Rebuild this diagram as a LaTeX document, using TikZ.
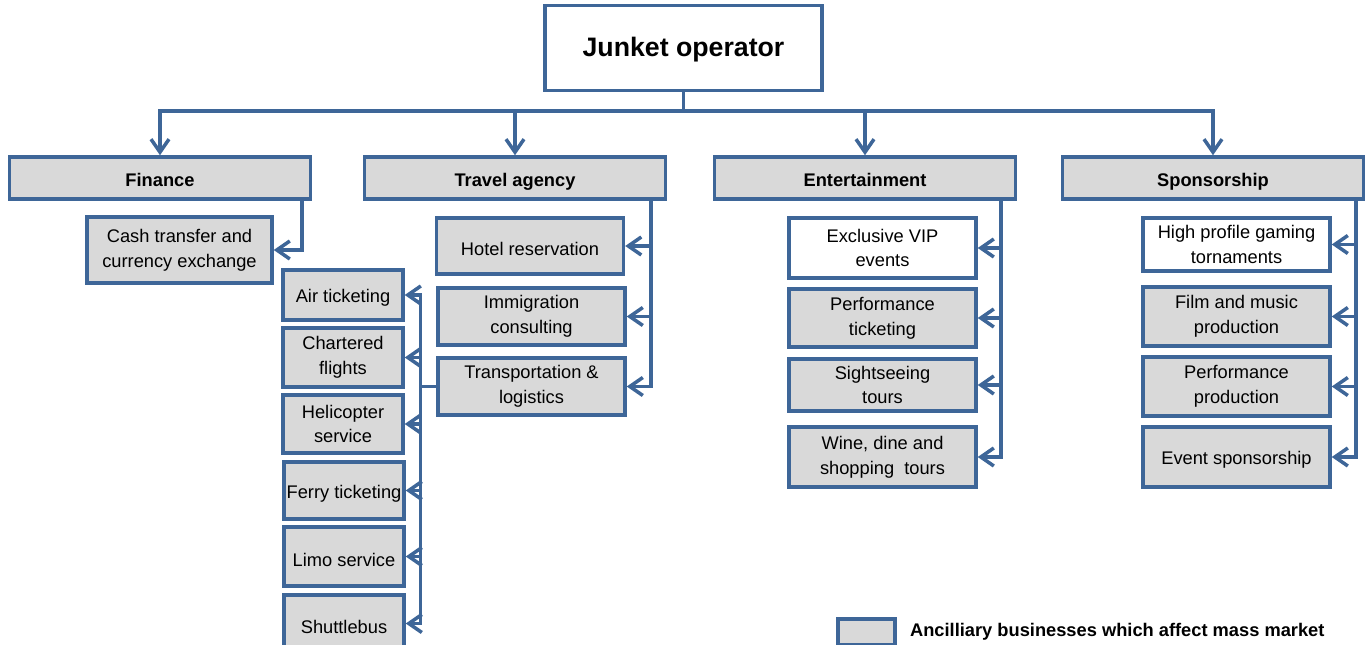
\documentclass[tikz,border=0pt]{standalone}
\usepackage{fontspec}
\setmainfont{Liberation Sans}
\usetikzlibrary{arrows.meta,positioning,calc}
\definecolor{junketBlue}{RGB}{62,102,152}
\definecolor{junketGrey}{RGB}{217,217,217}

\begin{document}
\begin{tikzpicture}[x=0.02cm, y=-0.02cm,
  % ── boxes ──
  topbox/.style={draw=junketBlue, fill=white, line width=2pt, rectangle,
                 minimum width=5.54cm, minimum height=1.7cm, inner sep=1pt,
                 text height=1.1em, text depth=0.18em,
                 font=\fontsize{15.2}{18}\selectfont\bfseries},
  headbox/.style={draw=junketBlue, fill=junketGrey, line width=2pt, rectangle,
                  minimum width=6.02cm, minimum height=0.84cm, inner sep=1pt,
                  text height=1.2em, text depth=0.26em,
                  font=\fontsize{10.4}{13}\selectfont\bfseries},
  leafbox/.style={draw=junketBlue, fill=junketGrey, line width=2pt, rectangle,
                  minimum width=3.74cm, inner sep=1pt, align=center,
                  execute at begin node={\rule{0pt}{1.05em}},
                  font=\fontsize{10.4}{14}\selectfont},
  plainleaf/.style={leafbox, fill=white},
  subleaf/.style={leafbox, minimum width=2.4cm},
  % ── arrows ──
  arr/.style={-{Straight Barb[length=2.6mm,width=3.6mm,line width=2pt]},
              line width=2pt, junketBlue},
  wire/.style={line width=2pt, junketBlue},
]

\useasboundingbox (0,0) rectangle (1370,645);
\clip (0,0) rectangle (1370,645);

%% ─── 1. Operator and branch headers ───────────────────────────
\node[topbox] (jo) at (683.5,48) {Junket operator};

\node[headbox] (fin) at (160,178)  {Finance};
\node[headbox] (trv) at (515,178)  {Travel agency};
\node[headbox] (ent) at (865,178)  {Entertainment};
\node[headbox] (spo) at (1213,178) {Sponsorship};

% bus line below the operator box
\coordinate (bus) at (jo.south |- 0,111);
\draw[wire] (jo.south) -- (bus);
\foreach \hd in {fin,trv,ent,spo}{
  \draw[arr] (bus) -| (\hd.north);
}

%% ─── 2. Finance ────────────────────────────────────────────────
\node[leafbox, minimum width=3.7cm, minimum height=1.32cm] (cash) at (179.5,250)
  {Cash transfer and\\currency exchange};
\draw[arr] ($(fin.south east)+(-10,0)$) |- (cash.east);

%% ─── 3. Travel agency ──────────────────────────────────────────
\node[leafbox, minimum height=1.12cm] (hotel) at (530,246)   {Hotel reservation};
\node[leafbox, minimum height=1.14cm] (immi)  at (531.5,316.5) {Immigration\\consulting};
\node[leafbox, minimum height=1.14cm] (trans) at (531.5,386.5) {Transportation \&\\logistics};
\foreach \lf in {hotel,immi,trans}{
  \draw[arr] ($(trv.south east)+(-16,0)$) |- (\lf.east);
}

% transport sub-branch
\node[subleaf, minimum height=1.0cm]  (air)   at (343,295)   {Air ticketing};
\node[subleaf, minimum height=1.18cm] (chart) at (343,357.5) {Chartered\\flights};
\node[subleaf, minimum height=1.16cm] (heli)  at (343,424)   {Helicopter\\service};
\node[subleaf, minimum height=1.14cm] (ferry) at (344,490.5) {Ferry ticketing};
\node[subleaf, minimum height=1.18cm] (limo)  at (344,556.5) {Limo service};
\node[subleaf, minimum height=1.14cm] (shut)  at (344,623.5) {Shuttlebus};

\coordinate (tj) at ($(trans.west)+(-16,0)$);
\draw[wire] (trans.west) -- (tj);
\foreach \lf in {air,chart,heli,ferry,limo,shut}{
  \draw[arr] (tj) |- (\lf.east);
}

%% ─── 4. Entertainment ──────────────────────────────────────────
\node[plainleaf, minimum height=1.2cm]  (vip)   at (882.5,248) {Exclusive VIP\\events};
\node[leafbox, minimum height=1.16cm]   (perft) at (882.5,318) {Performance\\ticketing};
\node[leafbox, minimum height=1.04cm]   (sight) at (882.5,385) {Sightseeing\\tours};
\node[leafbox, minimum height=1.2cm]    (wine)  at (882.5,457) {Wine, dine and\\shopping\ \ tours};
\foreach \lf in {vip,perft,sight,wine}{
  \draw[arr] ($(ent.south east)+(-16,0)$) |- (\lf.east);
}

%% ─── 5. Sponsorship ────────────────────────────────────────────
\node[plainleaf, minimum height=1.06cm] (high)  at (1236.5,244.5) {High profile gaming\\tornaments};
\node[leafbox, minimum height=1.18cm]   (film)  at (1236.5,316.5) {Film and music\\production};
\node[leafbox, minimum height=1.18cm]   (perfp) at (1236.5,386.5) {Performance\\production};
\node[leafbox, minimum height=1.2cm]    (event) at (1236.5,457)   {Event sponsorship};
\foreach \lf in {high,film,perfp,event}{
  \draw[arr] ($(spo.south east)+(-9,0)$) |- (\lf.east);
}

%% ─── 6. Legend ─────────────────────────────────────────────────
\node[leafbox, minimum width=1.14cm, minimum height=0.52cm] (lgbox) at (866.5,632) {};
\node[font=\fontsize{10.4}{13}\selectfont\bfseries, anchor=west, inner sep=0pt]
  (lgtext) at ($(lgbox.east)+(13,0)$) {Ancilliary businesses which affect mass market};

\end{tikzpicture}
\end{document}
